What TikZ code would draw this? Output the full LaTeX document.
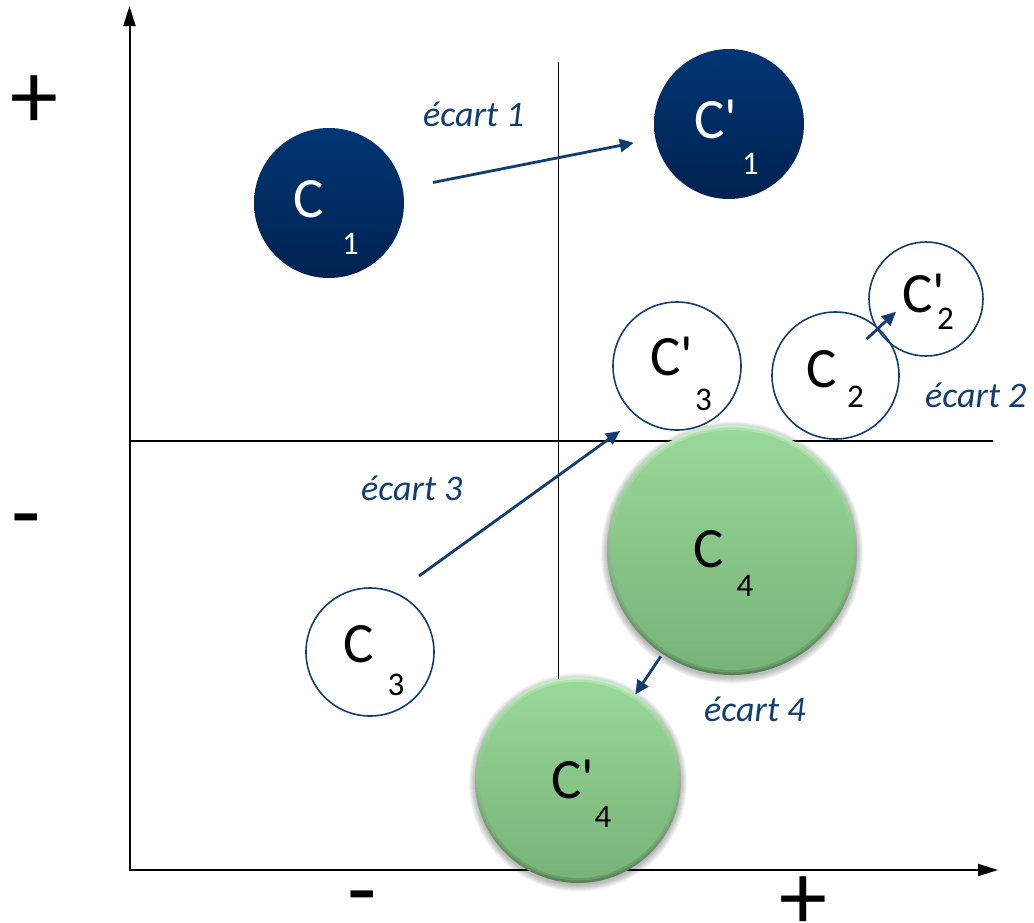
\documentclass[tikz,border=0pt]{standalone}
\usepackage{fontspec}
\setmainfont{Carlito}[Ligatures=TeXOff]
\usetikzlibrary{arrows.meta,calc}
\definecolor{navy}{RGB}{18,61,112}
\definecolor{darktop}{RGB}{0,54,115}
\definecolor{darkbot}{RGB}{0,34,80}
\definecolor{gtop}{RGB}{152,216,152}
\definecolor{gbot}{RGB}{120,180,120}
\definecolor{ghi}{RGB}{200,240,200}
\definecolor{glo}{RGB}{85,130,85}
\tikzset{
  axisline/.style={line width=2pt, {Triangle[length=20pt,width=12pt]}-{Triangle[length=20pt,width=12pt]}},
  divider/.style={line width=1.4pt},
  gap/.style={draw=navy, line width=2.8pt, -{Triangle[length=14pt,width=13pt]}},
  darkball/.style={circle, inner sep=0pt, outer sep=0pt, minimum size=2*#1, top color=darktop, bottom color=darkbot},
  openball/.style={circle, inner sep=0pt, outer sep=0pt, minimum size=2*#1, draw=navy, line width=1.6pt},
  greenball/.style={circle, inner sep=0pt, outer sep=0pt, minimum size=2*#1, top color=ghi, bottom color=glo,
    path picture={
      \shade[top color=ghi!50!gtop, bottom color=glo!50!gbot] (path picture bounding box.center) circle[radius=#1-2.5pt];
      \shade[top color=gtop, bottom color=gbot] (path picture bounding box.center) circle[radius=#1-5pt];
    }},
  shadowring/.style={fill=black, opacity=0.045},
  big/.style={inner sep=0pt, anchor=base, font=\fontsize{57}{60}\selectfont},
  small/.style={inner sep=0pt, anchor=base, font=\fontsize{33}{36}\selectfont},
  gaplabel/.style={inner sep=0pt, anchor=base west, text=navy, font=\fontsize{36}{40}\selectfont\itshape},
  sign/.style={inner sep=0pt, anchor=base, font=\fontsize{96}{100}\selectfont},
}
\begin{document}
\begin{tikzpicture}[x=1pt,y=-1pt]
\useasboundingbox (0,0) rectangle (1034,922);
% axes
\coordinate (O) at (129.5,870);
\coordinate (ytip) at (129.5,6);
\coordinate (xtip) at (998,870);
\draw[axisline] (ytip) -- (O) -- (xtip);
% quadrant dividers
\coordinate (vtop) at (558.5,62);
\coordinate (vbot) at (558.5,870);
\coordinate (hl) at (129.5,441);
\coordinate (hr) at (993,441);
\draw[divider] (vtop) -- (vbot);
\draw[divider] (hl) -- (hr);
% dark circles
\node[darkball=75pt] (c1) at (329,203) {};
\node[darkball=75pt] (c1p) at (729,124) {};
% open circles
\node[openball=63.5pt] (c2) at (835.5,375.5) {};
\node[openball=57pt] (c2p) at (926,299) {};
\node[openball=64pt] (c3p) at (677,366) {};
\node[openball=64pt] (c3) at (370,652) {};
% green circles with soft shadow
\coordinate (c4c) at (732,550);
\coordinate (c4pc) at (578,780);
\foreach \k in {1,...,7}{
  \fill[shadowring] ($(c4c)+(0,2.5)$) circle[radius=124pt+\k pt];
  \fill[shadowring] ($(c4pc)+(0,2.5)$) circle[radius=102pt+\k pt];
}
\node[greenball=125pt] (c4) at (c4c) {};
\node[greenball=103pt] (c4p) at (c4pc) {};
% gap arrows
\draw[gap, shorten <=31pt, shorten >=22pt] (c1) -- (c1p);
\coordinate (e2s) at (866.7,339);
\coordinate (e2e) at (896,311.7);
\draw[gap] (e2s) -- (e2e);
\coordinate (e3s) at (419,576);
\coordinate (e3e) at (620,431);
\draw[gap] (e3s) -- (e3e);
\draw[gap, shorten <=3pt] (c4) -- (c4p);
% circle labels
\node[big, text=white] (t1) at (308.5,217) {C};
\node[small, text=white] (s1) at (350.5,254) {1};
\node[big, text=white] (t1p) at (716,138) {C'};
\node[small, text=white] (s1p) at (750.5,174) {1};
\node[big] (t2) at (822,387) {C};
\node[small] (s2) at (855.5,407) {2};
\node[big] (t2p) at (924,312) {C'};
\node[small] (s2p) at (945.5,329) {2};
\node[big] (t3p) at (672,375) {C'};
\node[small] (s3p) at (703.5,410) {3};
\node[big] (t3) at (359,662) {C};
\node[small] (s3) at (396,695) {3};
\node[big] (t4) at (709,567) {C};
\node[small] (s4) at (745,596) {4};
\node[big] (t4p) at (572.5,798) {C'};
\node[small] (s4p) at (603,827) {4};
% gap labels
\node[gaplabel] (g1) at (423,126) {écart 1};
\node[gaplabel] (g2) at (925,407) {écart 2};
\node[gaplabel] (g3) at (361,500) {écart 3};
\node[gaplabel] (g4) at (704,721) {écart 4};
% axis signs
\node[sign] (py) at (34,128) {+};
\node[sign] (my) at (26,544) {-};
\node[sign] (mx) at (362.5,921) {-};
\node[sign] (px) at (803.5,929) {+};
\end{tikzpicture}
\end{document}
